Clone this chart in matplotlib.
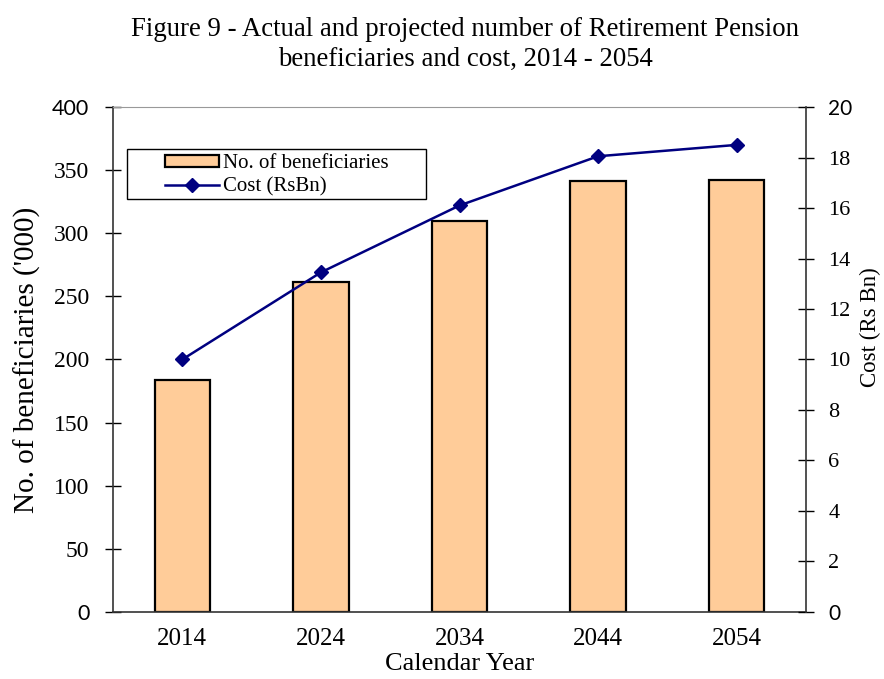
import matplotlib
matplotlib.use("Agg")
import matplotlib.pyplot as plt
from matplotlib.ticker import MultipleLocator
from matplotlib.patches import Rectangle
import numpy as np

plt.rcParams['font.family'] = ['Liberation Serif', 'DejaVu Serif']

years = ["2014", "2024", "2034", "2044", "2054"]
beneficiaries = [184, 261, 310, 341, 342]
cost = [10.0, 13.45, 16.1, 18.05, 18.5]

fig = plt.figure(figsize=(8.84, 6.79), dpi=100)
ax = fig.add_axes([0.1278, 0.0987, 0.7840, 0.7437])
x = np.arange(len(years))
bars = ax.bar(x, beneficiaries, width=0.40, color='#FFCC99', edgecolor='black', linewidth=1.6,
              label='No. of beneficiaries', zorder=2)
ax.set_xlim(-0.5, len(years) - 0.5)
ax.set_ylim(0, 400)
ax.yaxis.set_major_locator(MultipleLocator(50))
ax.set_xticks(x)
ax.set_xticklabels(years)
ax.tick_params(axis='y', direction='inout', length=12, labelsize=17, width=1, pad=11)
ax.tick_params(axis='x', length=0, labelsize=18, pad=11.5)
ax.set_ylabel("No. of beneficiaries ('000)", fontsize=21, labelpad=8)
ax.set_xlabel("Calendar Year", fontsize=19, labelpad=2.5)
for s in ['left', 'bottom']:
    ax.spines[s].set_color('#333333')
    ax.spines[s].set_linewidth(1.2)
ax.spines['top'].set_color('#999999')
ax.spines['right'].set_visible(False)

ax2 = ax.twinx()
ln, = ax2.plot(x, cost, color='#000080', marker='D', markersize=7.5, linewidth=1.8,
               label='Cost (RsBn)', zorder=3)
ax2.set_ylim(0, 20)
ax2.yaxis.set_major_locator(MultipleLocator(2))
ax2.tick_params(axis='y', direction='inout', length=12, labelsize=16, width=1, pad=10)
ax2.set_ylabel("Cost (Rs Bn)", fontsize=16.5, labelpad=5)
ax2.yaxis.label.set_y(0.564)
ax2.spines['right'].set_color('#333333')
ax2.spines['right'].set_linewidth(1.2)
for s in ['left', 'top', 'bottom']:
    ax2.spines[s].set_visible(False)

# a few tick labels in the reference are rendered in a sans face
fig.canvas.draw()
for lab in ax.get_yticklabels():
    if lab.get_text() in ('0', '400'):
        lab.set_fontfamily(['Lato', 'DejaVu Sans'])
        lab.set_fontsize(15.5)
for lab in ax2.get_yticklabels():
    if lab.get_text() in ('0', '20'):
        lab.set_fontfamily(['Lato', 'DejaVu Sans'])
        lab.set_fontsize(15)

box = Rectangle((0.0202, 0.8178), 0.4315, 0.099, transform=ax.transAxes,
                facecolor='white', edgecolor='black', linewidth=1.0, zorder=4)
ax2.add_patch(box)
leg = ax2.legend([bars, ln], ['No. of beneficiaries', 'Cost (RsBn)'],
                 loc='center', bbox_to_anchor=(0.236, 0.864), fontsize=15,
                 frameon=False, borderpad=0,
                 handlelength=2.6, handletextpad=0.2, labelspacing=0.2,
                 handleheight=0.5)
leg.set_zorder(5)

fig.text(0.526, 0.957, "Figure 9 - Actual and projected number of Retirement Pension",
         fontsize=19.3, ha='center', va='center')
fig.text(0.526, 0.913, "beneficiaries and cost, 2014 - 2054",
         fontsize=19.3, ha='center', va='center')

fig.savefig("out.png", dpi=100)
